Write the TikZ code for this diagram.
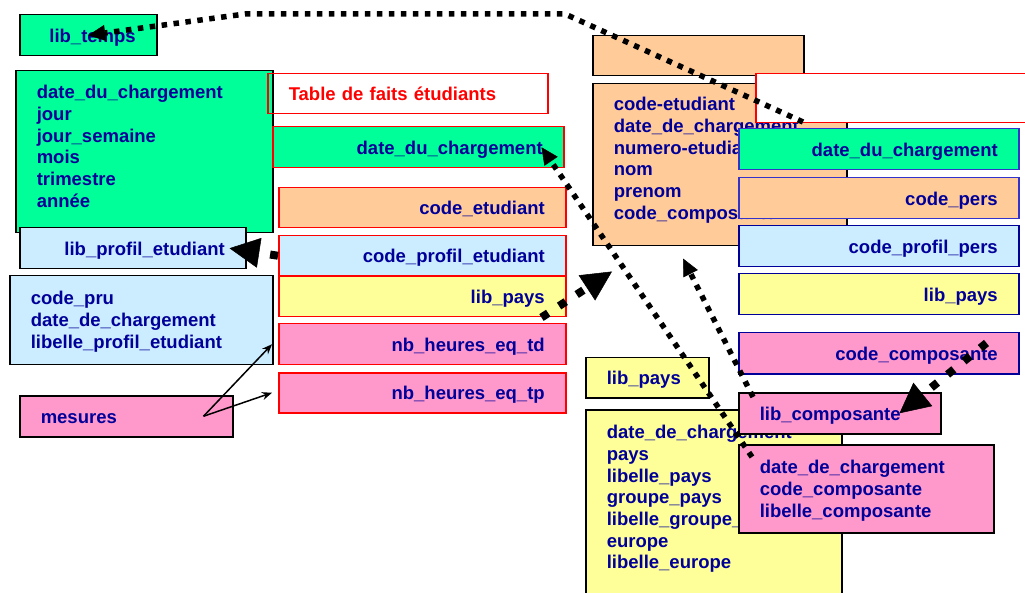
\documentclass[tikz,border=0pt]{standalone}
\usepackage{fontspec}
\setmainfont{Liberation Sans}
\usetikzlibrary{arrows.meta}
\definecolor{vert}{HTML}{00FF99}
\definecolor{saumon}{HTML}{FFCC99}
\definecolor{bleuclair}{HTML}{CCECFF}
\definecolor{jaune}{HTML}{FFFF99}
\definecolor{rose}{HTML}{FF99CC}
\definecolor{marine}{HTML}{000099}
\definecolor{bleubord}{HTML}{3333CC}
\tikzset{
  dimbox/.style={draw=black, align=left},
  faitbox/.style={draw=red, align=right, minimum height=40pt},
  pointille/.style={line width=5.5pt, dash pattern=on 5.5pt off 6.5pt, -{Triangle[length=17pt,width=16pt,line width=0.5pt]}},
  pointillefort/.style={line width=8pt, dash pattern=on 8pt off 13pt, -{Triangle[length=30pt,width=30pt,line width=0.5pt]}},
  fleche/.style={line width=1.5pt, -{Stealth[length=10pt,width=8pt]}}
}
\begin{document}
\begin{tikzpicture}[x=1pt,y=-1pt,
  every node/.style={font=\fontsize{18.5}{21.7}\selectfont\bfseries, text=marine, inner ysep=0pt, inner xsep=21pt, text height=27pt, text depth=13pt, anchor=north west, line width=1.5pt}]
\useasboundingbox (0,0) rectangle (1025,593);

\node[dimbox, fill=vert, text width=215pt, text height=28pt, text depth=134pt] (temps) at (15,70) {date\_du\_chargement\\jour\\jour\_semaine\\mois\\trimestre\\année};
\node[dimbox, fill=vert, align=right, text width=95pt, minimum height=41pt] (libtemps) at (19,14) {lib\_temps};
\node[draw=red, text=red, text width=238pt, minimum height=40pt, align=left] (titre) at (267,73) {Table de faits étudiants};
\node[faitbox, fill=vert, text width=249pt, minimum height=41pt] (fdate) at (272,126) {date\_du\_chargement};
\node[faitbox, fill=saumon, text width=245pt] (fetud) at (278,187) {code\_etudiant};
\node[faitbox, fill=bleuclair, text width=245pt] (fprofil) at (278,235) {code\_profil\_etudiant};
\node[faitbox, fill=jaune, text width=245pt] (fpays) at (278,276) {lib\_pays};
\node[faitbox, fill=rose, text width=245pt, minimum height=41pt] (ftd) at (278,323) {nb\_heures\_eq\_td};
\node[faitbox, fill=rose, text width=245pt] (ftp) at (278,372) {nb\_heures\_eq\_tp};
\node[dimbox, fill=bleuclair, align=right, text width=184pt, minimum height=41pt] (libprofil) at (19,227) {lib\_profil\_etudiant};
\node[dimbox, fill=bleuclair, text width=221pt, text height=29pt, text depth=60pt] (profil) at (9,275) {code\_pru\\date\_de\_chargement\\libelle\_profil\_etudiant};
\node[dimbox, fill=rose, text width=171pt, minimum height=41pt] (mesures) at (19,395) {mesures};

\node[dimbox, fill=saumon, minimum width=211pt, minimum height=40pt] (etudtitre) at (592,35) {};
\node[dimbox, fill=saumon, text width=212pt, text height=27pt, text depth=135pt] (etud) at (592,83) {code-etudiant\\date\_de\_chargement\\numero-etudiant\\nom\\prenom\\code\_composante};
\node[draw=red, fill=white, minimum width=280pt, minimum height=49pt] (titre2) at (755,73) {};
\node[faitbox, draw=bleubord, fill=vert, text width=238pt, minimum height=41pt] (rdate) at (738,128) {date\_du\_chargement};
\node[faitbox, draw=bleubord, fill=saumon, text width=238pt, minimum height=41pt] (rpers) at (738,177) {code\_pers};
\node[faitbox, draw=marine, fill=bleuclair, text width=238pt, minimum height=41pt] (rprofil) at (738,225) {code\_profil\_pers};
\node[faitbox, draw=marine, fill=jaune, text width=238pt, minimum height=41pt] (rpays) at (738,273) {lib\_pays};
\node[faitbox, draw=marine, fill=rose, text width=238pt, minimum height=41pt] (rcomp) at (738,332) {code\_composante};
\node[dimbox, fill=jaune, text width=81pt, minimum height=40pt] (libpays) at (585,357) {lib\_pays};
\node[dimbox, fill=jaune, text width=214pt, text height=29pt, text depth=162pt] (pays) at (585,409) {date\_de\_chargement\\pays\\libelle\_pays\\groupe\_pays\\libelle\_groupe\_pays\\europe\\libelle\_europe};
\node[dimbox, fill=rose, text width=160pt, minimum height=41pt] (libcomp) at (738,392) {lib\_composante};
\node[dimbox, fill=rose, text width=213pt, text height=29pt, text depth=59pt] (comp) at (738,444) {date\_de\_chargement\\code\_composante\\libelle\_composante};

\coordinate (depart) at (803,122);
\draw[pointille] (depart) -- (565,14) -- (245,14) -- (libtemps.center);
\draw[pointillefort] (fprofil.west) -- ([xshift=-17pt]libprofil.east);
\draw[pointillefort] ([xshift=-25pt]fpays.south east) -- ([xshift=20pt,yshift=-25pt]etud.south west);
\draw[pointillefort] ([xshift=-33pt,yshift=-11pt]rcomp.north east) -- ([xshift=-42pt]libcomp.east);
\draw[pointille] ([xshift=14pt,yshift=-13pt]comp.north west) -- ([xshift=-23pt]fdate.east);
\draw[pointille] ([xshift=15pt,yshift=-5pt]libcomp.north west) -- ([xshift=91pt,yshift=-12pt]etud.south west);
\draw[fleche] ([xshift=-30pt]mesures.east) -- ([xshift=-6pt]ftd.west);
\draw[fleche] ([xshift=-30pt]mesures.east) -- ([xshift=-6pt]ftp.west);
\end{tikzpicture}
\end{document}
